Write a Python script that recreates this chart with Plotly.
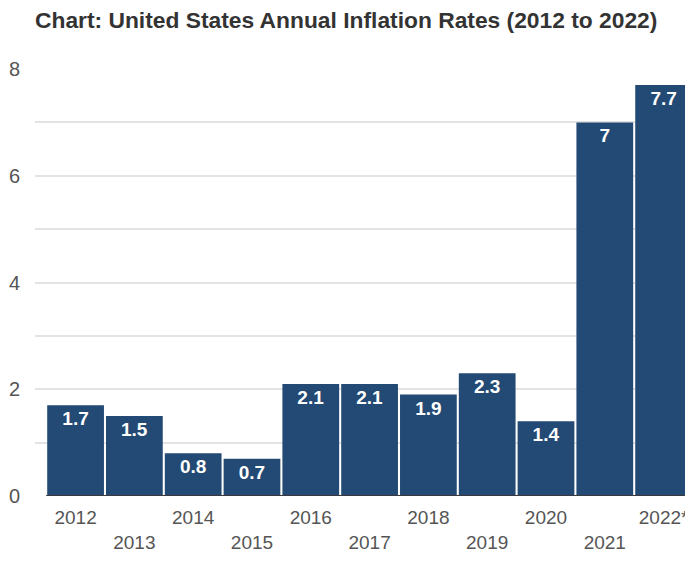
import plotly.graph_objects as go

years = ["2012", "2013", "2014", "2015", "2016", "2017", "2018", "2019", "2020", "2021", "2022*"]
rates = [1.7, 1.5, 0.8, 0.7, 2.1, 2.1, 1.9, 2.3, 1.4, 7, 7.7]
labels = ["1.7", "1.5", "0.8", "0.7", "2.1", "2.1", "1.9", "2.3", "1.4", "7", "7.7"]
tick_text = [y if i % 2 == 0 else "<br>" + y for i, y in enumerate(years)]

W, H = 685, 546  # page body has an 8px margin; keep the page free of scrollbars

fig = go.Figure(go.Bar(
    x=years, y=rates, text=labels,
    textposition="inside", insidetextanchor="end",
    textfont=dict(family="Liberation Sans, Arial", size=19, color="white"),
    texttemplate="<b>%{text}</b>",
    marker=dict(color="#234a74", line=dict(width=0)),
))

fig.update_layout(
    width=W, height=H,
    paper_bgcolor="white", plot_bgcolor="white",
    margin=dict(l=27, r=0, t=61, b=58, autoexpand=False),
    font=dict(family="Liberation Sans, Arial", color="#444444"),
    title=dict(text="<b>Chart: United States Annual Inflation Rates (2012 to 2022)</b>",
               x=27 / W, xanchor="left", y=1 - 4 / H, yanchor="top",
               font=dict(size=22.8, color="#333333")),
    bargap=0.035,
    showlegend=False,
    shapes=[dict(type="line", xref="x", yref="y", x0=-0.5, x1=10.5, y0=0, y1=0,
                 line=dict(color="#3a3a3a", width=2))],
)
fig.update_xaxes(
    type="category", range=[-0.69, 10.5], automargin=False,
    tickmode="array", tickvals=years, ticktext=tick_text,
    tickfont=dict(size=19, color="#555555"),
    showgrid=False, showline=False,
    ticks="", ticklen=0, ticklabelstandoff=8,
)
fig.update_yaxes(
    range=[0, 8], automargin=False,
    tickmode="array", tickvals=[0, 1, 2, 3, 4, 5, 6, 7, 8], ticktext=["0", "", "2", "", "4", "", "6", "", "8"],
    tickfont=dict(size=20, color="#555555"),
    showgrid=True, gridcolor="#e3e3e3", gridwidth=1.5,
    zeroline=False, ticklabelstandoff=14,
)

fig.write_html("out.html")
